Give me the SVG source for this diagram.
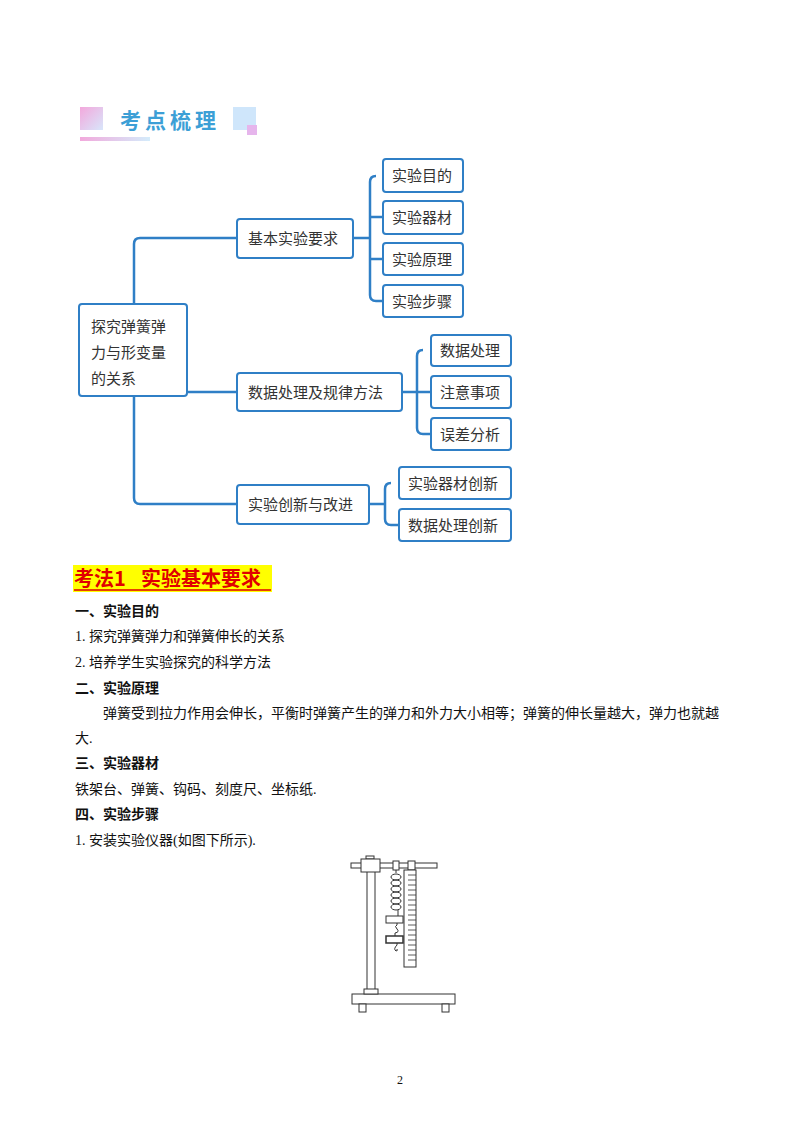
<svg xmlns="http://www.w3.org/2000/svg" width="800" height="1132" viewBox="0 0 800 1132">
<defs>
<linearGradient id="g1" x1="0" y1="0" x2="1" y2="1"><stop offset="0" stop-color="#f3a8dc"/><stop offset="1" stop-color="#d8e6fb"/></linearGradient>
<linearGradient id="g2" x1="0" y1="0" x2="1" y2="0"><stop offset="0" stop-color="#f2a9dc"/><stop offset="1" stop-color="#d4ecfb"/></linearGradient>
</defs>
<style>
.b{fill:#fff;stroke:#2f7fc6;stroke-width:2}
.c{fill:none;stroke:#2f7fc6;stroke-width:2.5}
.t{font-family:"Noto Sans CJK SC","Liberation Serif",serif;font-size:15px;fill:#333}
.p{font-family:"Liberation Serif","Noto Sans CJK SC",serif;font-size:14px;fill:#111}
.h{font-family:"Noto Sans CJK SC",sans-serif;font-size:14px;font-weight:bold;fill:#111}
.a{fill:#fff;stroke:#333;stroke-width:1}
</style>
<rect width="800" height="1132" fill="#fff"/>
<g id="title">
<rect x="80" y="107" width="23" height="23" fill="url(#g1)"/>
<rect x="233" y="107" width="23" height="23" fill="#cfe6fb"/>
<rect x="247" y="125" width="10" height="10" fill="#e6b5ec"/>
<rect x="80" y="137" width="70" height="4" fill="url(#g2)"/>
<text x="120" y="128" font-family="Noto Sans CJK SC,sans-serif" font-size="21" font-weight="bold" fill="#3c9fd6" letter-spacing="4">考点梳理</text>
</g>
<g id="connectors">
<path class="c" d="M134 304V244Q134 238 140 238H237M187 392H237M134 396V498Q134 504 140 504H237"/>
<path class="c" d="M353 238H370M376 176Q370 176 370 182V295Q370 301 376 301H383M370 217H383M370 259H383"/>
<path class="c" d="M402 392H431M423 350Q417 350 417 356V428Q417 434 423 434H431"/>
<path class="c" d="M369 504H385M391 483Q385 483 385 489V519Q385 525 391 525H399"/>
</g>
<g id="root"><rect class="b" x="79" y="304" width="108" height="92" rx="3"/>
<text class="t" x="91" y="332">探究弹簧弹</text><text class="t" x="91" y="358">力与形变量</text><text class="t" x="91" y="384">的关系</text></g>
<g id="n1"><rect class="b" x="237" y="219" width="116" height="39" rx="3"/><text class="t" x="248" y="244">基本实验要求</text></g>
<g id="n2"><rect class="b" x="237" y="373" width="165" height="38" rx="3"/><text class="t" x="248" y="398">数据处理及规律方法</text></g>
<g id="n3"><rect class="b" x="237" y="485" width="132" height="39" rx="3"/><text class="t" x="248" y="510">实验创新与改进</text></g>
<g id="l1"><rect class="b" x="383" y="159" width="80" height="33" rx="3"/><text class="t" x="392" y="181">实验目的</text></g>
<g id="l2"><rect class="b" x="383" y="201" width="80" height="33" rx="3"/><text class="t" x="392" y="223">实验器材</text></g>
<g id="l3"><rect class="b" x="383" y="243" width="80" height="32" rx="3"/><text class="t" x="392" y="265">实验原理</text></g>
<g id="l4"><rect class="b" x="383" y="285" width="80" height="32" rx="3"/><text class="t" x="392" y="307">实验步骤</text></g>
<g id="l5"><rect class="b" x="431" y="335" width="80" height="31" rx="3"/><text class="t" x="440" y="356">数据处理</text></g>
<g id="l6"><rect class="b" x="431" y="376" width="80" height="32" rx="3"/><text class="t" x="440" y="398">注意事项</text></g>
<g id="l7"><rect class="b" x="431" y="418" width="80" height="32" rx="3"/><text class="t" x="440" y="440">误差分析</text></g>
<g id="l8"><rect class="b" x="399" y="467" width="112" height="32" rx="3"/><text class="t" x="408" y="489">实验器材创新</text></g>
<g id="l9"><rect class="b" x="399" y="509" width="112" height="32" rx="3"/><text class="t" x="408" y="531">数据处理创新</text></g>
<g id="text">
<rect x="73" y="565" width="199" height="27" fill="#ffff00"/>
<text x="74" y="586" font-family="Noto Sans CJK SC,sans-serif" font-size="20" font-weight="bold" fill="#e00000">考法1<tspan x="141">实验基本要求</tspan></text>
<line x1="74" y1="590" x2="271" y2="590" stroke="#e00000" stroke-width="1.5"/>
<text class="h" x="75" y="616">一、实验目的</text>
<text class="p" x="75" y="641">1.  探究弹簧弹力和弹簧伸长的关系</text>
<text class="p" x="75" y="667">2.  培养学生实验探究的科学方法</text>
<text class="h" x="75" y="693">二、实验原理</text>
<text class="p" x="103" y="718">弹簧受到拉力作用会伸长，平衡时弹簧产生的弹力和外力大小相等；弹簧的伸长量越大，弹力也就越</text>
<text class="p" x="75" y="743">大.</text>
<text class="h" x="75" y="768">三、实验器材</text>
<text class="p" x="75" y="794">铁架台、弹簧、钩码、刻度尺、坐标纸.</text>
<text class="h" x="75" y="819">四、实验步骤</text>
<text class="p" x="75" y="845">1.  安装实验仪器(如图下所示).</text>
<text x="400" y="1084" font-family="Liberation Serif,serif" font-size="12" text-anchor="middle" fill="#111">2</text>
</g>
<g id="apparatus">
<rect class="a" x="352" y="994" width="103" height="10"/>
<rect class="a" x="359" y="1004" width="7" height="8"/>
<rect class="a" x="442" y="1004" width="7" height="8"/>
<rect class="a" x="367" y="868" width="8" height="122"/>
<rect class="a" x="364" y="989" width="14" height="5"/>
<rect class="a" x="351" y="863" width="86" height="5"/>
<rect class="a" x="366" y="856" width="8" height="3"/>
<rect class="a" x="361" y="859" width="19" height="13"/>
<rect class="a" x="393" y="861" width="6" height="9"/>
<rect class="a" x="408" y="861" width="7" height="9"/>
<rect class="a" x="404" y="870" width="12" height="97"/>
<path stroke="#333" stroke-width="0.8" d="M408 875h8M408 880h8M408 885h8M408 890h8M408 895h8M408 900h8M408 905h8M408 910h8M408 915h8M408 920h8M408 925h8M408 930h8M408 935h8M408 940h8M408 945h8M408 950h8M408 955h8M408 960h8"/>
<path fill="none" stroke="#333" stroke-width="1" d="M396 870v3M391 877a5 3 0 1 0 10 0a5 3 0 1 0 -10 0M391 883a5 3 0 1 0 10 0a5 3 0 1 0 -10 0M391 889a5 3 0 1 0 10 0a5 3 0 1 0 -10 0M391 895a5 3 0 1 0 10 0a5 3 0 1 0 -10 0M391 901a5 3 0 1 0 10 0a5 3 0 1 0 -10 0M391 907a5 3 0 1 0 10 0a5 3 0 1 0 -10 0M398 910v6"/>
<rect class="a" x="386" y="916" width="17" height="7"/>
<path fill="none" stroke="#333" d="M397 923v2q-3 1 0 4q3 3 -2 4v3M397 943v2q-4 4 -1 6q2 0 1 -2"/>
<rect x="386" y="936" width="17" height="7" fill="#fff" stroke="#333" stroke-width="1.5"/>
</g>
</svg>
